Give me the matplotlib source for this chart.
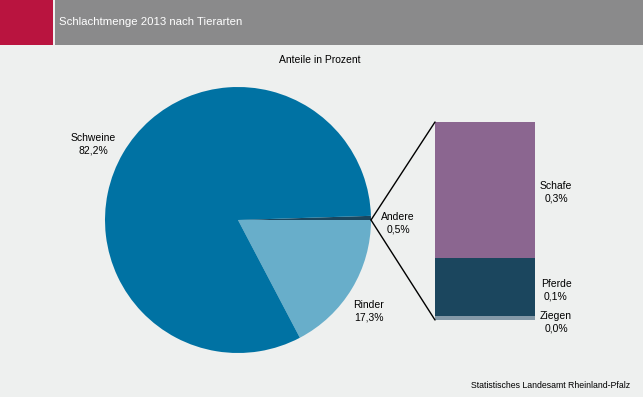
import matplotlib
matplotlib.use("Agg")
import matplotlib.pyplot as plt
from matplotlib.patches import Rectangle, ConnectionPatch
import numpy as np

plt.rcParams['font.family'] = ['Liberation Sans', 'DejaVu Sans']

title = "Schlachtmenge 2013 nach Tierarten"
subtitle = "Anteile in Prozent"
source = "Statistisches Landesamt Rheinland-Pfalz"

pie_labels = ["Andere", "Rinder", "Schweine"]
pie_values = [0.5, 17.3, 82.2]
pie_colors = ["#1b465e", "#68aeca", "#0072a3"]

bar_labels = ["Ziegen", "Pferde", "Schafe"]
bar_values = [0.01, 0.146, 0.344]
bar_colors = ["#8499a8", "#1b465e", "#8b6690"]

W, H = 643, 397
fig = plt.figure(figsize=(W / 100, H / 100), dpi=100)
fig.patch.set_facecolor("#eef0ef")

ax = fig.add_axes([0, 0, 1, 1])

# pie
cx, cy, r = 238, H - 220, 133
start = pie_values[0] / 100 * 360
wedges, _ = ax.pie(pie_values, colors=pie_colors, startangle=start, counterclock=False,
                   center=(cx, cy), radius=r, wedgeprops=dict(linewidth=0),
                   frame=True)
ax.set_xlim(0, W)
ax.set_ylim(0, H)
ax.set_aspect("equal")
ax.axis("off")

# header
ax.add_patch(Rectangle((0, H - 45), 53, 45, color="#b9143f", lw=0))
ax.add_patch(Rectangle((55, H - 45), W - 55, 45, color="#8a8a8b", lw=0))
ax.text(59, H - 22, title, color="white", fontsize=8.2, va="center", ha="left")

FS = 7.5
ax.text(320, H - 60, subtitle, fontsize=FS, ha="center", va="center")

def fmt(v):
    return f"{v:.1f}".replace(".", ",") + "%"

kw = dict(fontsize=FS, ha="center", va="center", linespacing=1.3)
ax.text(93, H - 144, f"{pie_labels[2]}\n{fmt(pie_values[2])}", **kw)
ax.text(369, H - 311, f"{pie_labels[1]}\n{fmt(pie_values[1])}", **kw)
ax.text(398, H - 223, f"{pie_labels[0]}\n{fmt(pie_values[0])}", **kw)

# bar of pie
bx = fig.add_axes([435 / W, (H - 320) / H, 100 / W, 198 / H])
bx.set_xlim(0, 1)
bx.set_ylim(0, sum(bar_values))
bx.axis("off")
bottom = 0
for lab, v, c in zip(bar_labels, bar_values, bar_colors):
    bx.bar(0.5, v, width=1, bottom=bottom, color=c, lw=0)
    bottom += v
label_y = {"Schafe": H - 192, "Pferde": H - 290, "Ziegen": H - 322}
for lab, v in zip(bar_labels, bar_values):
    ax.text(556, label_y[lab], f"{lab}\n{fmt(v)}", **kw)

# connector lines
px, py = cx + r, cy
for yb in (0, sum(bar_values)):
    con = ConnectionPatch(xyA=(px, py), coordsA=ax.transData,
                          xyB=(0, yb), coordsB=bx.transData, color="black", lw=1)
    fig.add_artist(con)

ax.text(630, H - 385, source, fontsize=6.3, ha="right", va="center")

fig.savefig("out.png", dpi=100, facecolor=fig.get_facecolor())
